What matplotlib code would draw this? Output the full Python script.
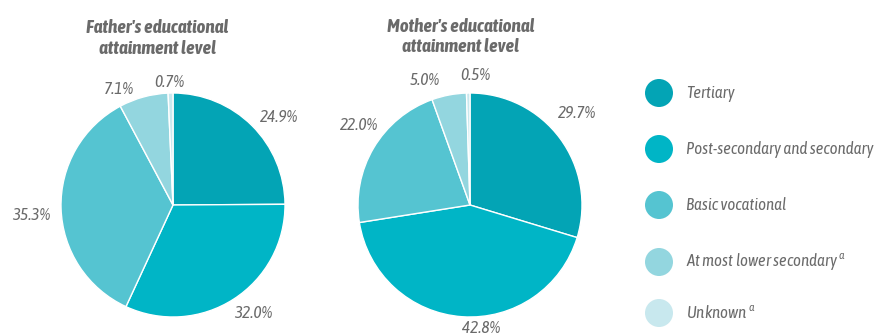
import matplotlib
matplotlib.use("Agg")
import matplotlib.pyplot as plt
from matplotlib.patches import Circle

plt.rcParams['font.family'] = ['Asap Condensed', 'DejaVu Sans']
plt.rcParams['mathtext.fontset'] = 'custom'
plt.rcParams['mathtext.it'] = 'Asap Condensed:italic'
plt.rcParams['mathtext.rm'] = 'Asap Condensed'

categories = ["Tertiary", "Post-secondary and secondary", "Basic vocational",
              "At most lower secondary", "Unknown"]
legend_sup = ["", "", "", "a", "a"]
father = [24.9, 32.0, 35.3, 7.1, 0.7]
mother = [29.7, 42.8, 22.0, 5.0, 0.5]
colors = ["#03A4B5", "#00B5C6", "#55C4D1", "#93D6DF", "#C8E8EE"]

TEXT = "#6a6a6a"
W, H = 875, 335
fig = plt.figure(figsize=(W / 100, H / 100), dpi=100)


def pie_axes(cx, cy, r):
    return fig.add_axes([(cx - r) / W, (H - cy - r) / H, 2 * r / W, 2 * r / H])


def draw_pie(ax, values, label_pos, title, title_x, title_y):
    ax.pie(values, colors=colors, startangle=90, counterclock=False, radius=1,
           wedgeprops=dict(edgecolor="white", linewidth=1.0))
    ax.set_xlim(-1, 1)
    ax.set_ylim(-1, 1)
    ax.set_aspect("equal")
    ax.axis("off")
    for v, (x, y) in zip(values, label_pos):
        ax.text(x, y, f"{v:.1f}%", ha="center", va="center", fontsize=12.5,
                style="italic", color=TEXT, clip_on=False)
    ax.text(title_x, title_y, title, ha="center", va="center", fontsize=13.7,
            style="italic", weight="bold", color=TEXT, linespacing=1.2,
            clip_on=False)


ax1 = pie_axes(173, 205, 112)
draw_pie(ax1, father,
         [(0.95, 0.78), (0.72, -0.97), (-1.27, -0.09), (-0.48, 1.03), (-0.03, 1.09)],
         "Father's educational\nattainment level", -0.14, 1.49)

ax2 = pie_axes(470, 205, 112)
draw_pie(ax2, mother,
         [(0.955, 0.82), (0.10, -1.10), (-0.99, 0.71), (-0.40, 1.11), (0.05, 1.16)],
         "Mother's educational\nattainment level", -0.08, 1.50)

# Legend with round markers
lax = fig.add_axes([0, 0, 1, 1])
lax.set_xlim(0, W)
lax.set_ylim(H, 0)
lax.axis("off")
legend_y = [93, 149, 205, 262, 313]
for name, sup, col, y in zip(categories, legend_sup, colors, legend_y):
    lax.add_patch(Circle((659, y), 14, color=col, lw=0))
    label = name + (r" $^{\mathit{%s}}$" % sup if sup else "")
    lax.text(686, y, label, ha="left", va="center", fontsize=12.2,
             style="italic", color=TEXT)

fig.savefig("out.png", dpi=100)
